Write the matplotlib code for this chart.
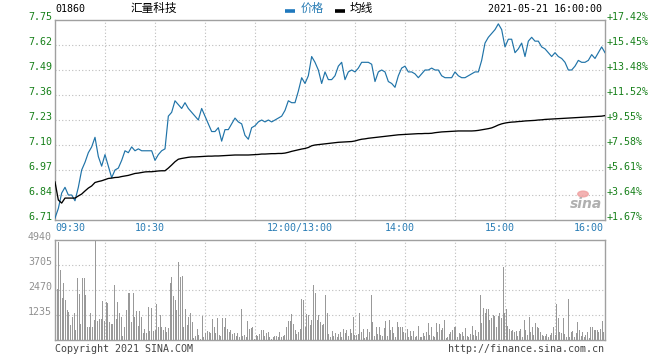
import numpy as np
import matplotlib
matplotlib.use("Agg")
import matplotlib.pyplot as plt
import matplotlib.transforms as mtransforms

# ---------------- data ----------------
code = "01860"
name = "汇量科技"
date_text = "2021-05-21 16:00:00"
prev_close = 6.60

price_ticks = [6.71, 6.84, 6.97, 7.10, 7.23, 7.36, 7.49, 7.62, 7.75]
pct_labels = ["+1.67%", "+3.64%", "+5.61%", "+7.58%", "+9.55%",
              "+11.52%", "+13.48%", "+15.45%", "+17.42%"]
vol_ticks = [1235, 2470, 3705, 4940]
time_ticks = [0, 60, 150, 210, 270, 330]          # minutes from open
time_labels = ["09:30", "10:30", "12:00/13:00", "14:00", "15:00", "16:00"]

# price every 2 trading minutes
price = [6.72, 6.77, 6.85, 6.88, 6.84, 6.84, 6.81, 6.88, 6.97, 7.01,
         7.06, 7.09, 7.14, 7.04, 6.99, 7.05, 6.99, 6.93, 6.97, 6.98,
         7.02, 7.07, 7.06, 7.09, 7.07, 7.08, 7.07, 7.07, 7.07, 7.07,
         7.02, 7.05, 7.07, 7.08, 7.25, 7.27, 7.33, 7.31, 7.29, 7.32,
         7.29, 7.27, 7.25, 7.23, 7.29, 7.25, 7.21, 7.17, 7.17, 7.19,
         7.12, 7.18, 7.18, 7.21, 7.24, 7.22, 7.21, 7.15, 7.13, 7.19,
         7.20, 7.22, 7.23, 7.22, 7.23, 7.22, 7.23, 7.24, 7.25, 7.28,
         7.33, 7.32, 7.32, 7.38, 7.45, 7.42, 7.46, 7.56, 7.53, 7.49,
         7.42, 7.48, 7.44, 7.44, 7.46, 7.51, 7.53, 7.44, 7.48, 7.49,
         7.48, 7.50, 7.53, 7.53, 7.53, 7.52, 7.43, 7.48, 7.49, 7.48,
         7.43, 7.42, 7.40, 7.46, 7.50, 7.51, 7.48, 7.48, 7.47, 7.45,
         7.47, 7.49, 7.49, 7.50, 7.49, 7.49, 7.46, 7.45, 7.45, 7.45,
         7.48, 7.46, 7.45, 7.45, 7.46, 7.47, 7.48, 7.48, 7.54, 7.63,
         7.66, 7.68, 7.70, 7.73, 7.70, 7.61, 7.65, 7.65, 7.58, 7.60,
         7.63, 7.56, 7.64, 7.66, 7.64, 7.64, 7.61, 7.60, 7.58, 7.56,
         7.58, 7.56, 7.55, 7.53, 7.49, 7.49, 7.51, 7.54, 7.53, 7.53,
         7.54, 7.57, 7.55, 7.58, 7.61, 7.58]

avg_price = [6.908, 6.814, 6.798, 6.824, 6.824, 6.824, 6.824, 6.835, 6.845, 6.861,
             6.876, 6.887, 6.905, 6.910, 6.914, 6.920, 6.926, 6.928, 6.931, 6.932,
             6.936, 6.939, 6.942, 6.947, 6.952, 6.954, 6.957, 6.960, 6.961, 6.961,
             6.963, 6.965, 6.966, 6.966, 6.980, 6.996, 7.013, 7.026, 7.030, 7.033,
             7.036, 7.038, 7.038, 7.039, 7.040, 7.041, 7.042, 7.042, 7.043, 7.043,
             7.044, 7.045, 7.046, 7.047, 7.048, 7.048, 7.048, 7.048, 7.048, 7.049,
             7.050, 7.051, 7.053, 7.053, 7.054, 7.055, 7.055, 7.056, 7.056, 7.058,
             7.062, 7.067, 7.071, 7.075, 7.079, 7.082, 7.087, 7.096, 7.100, 7.102,
             7.104, 7.106, 7.108, 7.110, 7.112, 7.114, 7.115, 7.116, 7.117, 7.118,
             7.121, 7.126, 7.130, 7.132, 7.135, 7.137, 7.139, 7.141, 7.143, 7.145,
             7.147, 7.149, 7.151, 7.153, 7.154, 7.155, 7.156, 7.157, 7.158, 7.159,
             7.159, 7.160, 7.160, 7.161, 7.164, 7.166, 7.168, 7.169, 7.170, 7.171,
             7.172, 7.173, 7.173, 7.173, 7.173, 7.173, 7.174, 7.176, 7.179, 7.182,
             7.185, 7.189, 7.196, 7.204, 7.210, 7.214, 7.217, 7.219, 7.220, 7.222,
             7.223, 7.225, 7.226, 7.227, 7.228, 7.230, 7.231, 7.233, 7.234, 7.235,
             7.236, 7.237, 7.238, 7.239, 7.240, 7.241, 7.242, 7.243, 7.244, 7.245,
             7.246, 7.247, 7.248, 7.249, 7.250, 7.253]

volume_am = [2500, 4840, 3460, 2060, 2800, 2000, 1480, 1400, 740, 1120,
             1320, 490, 3050, 2270, 790, 3050, 3050, 2220, 660, 625,
             1320, 660, 990, 4900, 955, 1020, 1020, 1940, 955, 1860,
             1810, 905, 790, 790, 2720, 1020, 1890, 1350, 1120, 200,
             660, 1480, 2340, 2340, 905, 2340, 1150, 1450, 690, 1450,
             1120, 330, 560, 330, 1650, 460, 1600, 445, 490, 1780,
             660, 1235, 625, 490, 660, 410, 575, 2830, 3130, 2190,
             1980, 1480, 3850, 3130, 3160, 625, 1550, 740, 1120, 1320,
             890, 80, 200, 530, 250, 70, 1200, 165, 360, 445,
             410, 360, 1020, 660, 360, 1070, 250, 200, 1070, 660,
             1070, 530, 400, 490, 300, 330, 200, 330, 165, 1515,
             200, 230, 165, 955, 530, 575, 625, 30, 250, 200,
             300, 490, 490, 200, 330, 410, 165, 30, 130, 200,
             200, 165, 400, 130, 200, 250, 625, 955, 955, 1285,
             790, 490, 300, 410, 530, 2030, 1980, 660, 1285, 1235,
             740, 990, 2720, 2300, 990, 1235, 905, 740, 790, 2220,
             1320, 300, 130]
volume_pm = [445, 200, 330, 130, 300, 410, 165, 530, 360, 490,
             200, 530, 330, 1120, 250, 250, 300, 1320, 410, 530,
             80, 130, 545, 410, 2220, 905, 200, 660, 300, 625,
             250, 200, 575, 955, 200, 990, 490, 660, 330, 165,
             890, 625, 625, 660, 410, 330, 530, 165, 460, 200,
             460, 165, 200, 690, 165, 165, 330, 200, 410, 825,
             250, 660, 200, 165, 855, 410, 790, 490, 575, 990,
             80, 130, 300, 410, 490, 625, 660, 165, 330, 300,
             410, 200, 575, 200, 165, 300, 690, 250, 490, 200,
             410, 2220, 825, 1565, 1320, 1515, 1530, 990, 1070, 1235,
             1185, 660, 1185, 1320, 1070, 3620, 1350, 1530, 690, 530,
             460, 490, 410, 460, 200, 460, 530, 130, 990, 490,
             250, 1120, 410, 625, 250, 855, 660, 575, 410, 250,
             200, 200, 300, 130, 250, 360, 625, 250, 1780, 1070,
             410, 330, 1070, 300, 130, 2010, 165, 410, 460, 165,
             330, 905, 490, 200, 410, 165, 250, 410, 80, 660,
             625, 490, 490, 490, 410, 530, 955, 410, 1020]

# ---------------- style ----------------
W, H = 660, 360
MONO = "DejaVu Sans Mono"
FS = 7.2
GREEN = "#17801a"
BLUE_TXT = "#2a7db5"
PRICE_C = "#1f73a8"
FRAME = "#a0a0a0"
GRID = "#bdbdbd"
VOLC = "#999999"

fig = plt.figure(figsize=(W / 100, H / 100), dpi=100)
fig.patch.set_facecolor("white")

ax = fig.add_axes([55 / W, 1 - 220 / H, 550 / W, 200 / H])
axv = fig.add_axes([55 / W, 1 - 340 / H, 550 / W, 100 / H])

n_min = 330
t_price = np.arange(len(price)) * 2
t_vol_am = np.linspace(1, 165, len(volume_am))
t_vol_pm = np.linspace(166, 330, len(volume_pm))

for a in (ax, axv):
    a.set_xlim(0, n_min)
    a.set_xticks([])
    a.set_yticks([])
    for s in a.spines.values():
        s.set_color(FRAME)
        s.set_linewidth(1.0)
    for t in range(30, n_min, 30):
        a.axvline(t, color=GRID, lw=0.8, ls=(0, (1, 2)), zorder=0)

ax.set_ylim(price_ticks[0], price_ticks[-1])
for v in price_ticks[1:-1]:
    ax.axhline(v, color=GRID, lw=0.8, ls=(0, (1, 2)), zorder=0)

axv.set_ylim(0, vol_ticks[-1])
for v in vol_ticks[:-1]:
    axv.axhline(v, color=GRID, lw=0.8, ls=(0, (1, 2)), zorder=0)

# lines
ax.plot(t_price, price, color=PRICE_C, lw=0.85, zorder=3)
ax.plot(t_price, avg_price, color="black", lw=0.95, zorder=4)

# volume bars
axv.vlines(t_vol_am, 0, volume_am, color=VOLC, lw=0.55, zorder=3, antialiased=False)
axv.vlines(t_vol_pm, 0, volume_pm, color=VOLC, lw=0.55, zorder=3, antialiased=False)

# price labels (left) and percent labels (right)
ytr = ax.get_yaxis_transform()
left_tr = mtransforms.offset_copy(ytr, fig=fig, x=-3, y=3, units="dots")
right_tr = mtransforms.offset_copy(ytr, fig=fig, x=2, y=3, units="dots")
for v, p in zip(price_ticks, pct_labels):
    ax.text(0, v, f"{v:.2f}", transform=left_tr, ha="right", va="center",
            family=MONO, fontsize=FS, color=GREEN)
    ax.text(1, v, p, transform=right_tr, ha="left", va="center",
            family=MONO, fontsize=FS, color=GREEN)

# volume labels
vtr = mtransforms.offset_copy(axv.get_yaxis_transform(), fig=fig, x=-3, y=3, units="dots")
for v in vol_ticks:
    axv.text(0, v, str(v), transform=vtr, ha="right", va="center",
             family=MONO, fontsize=FS, color="#909090")

# time labels
xtr = ax.get_xaxis_transform()
for i, (t, lab) in enumerate(zip(time_ticks, time_labels)):
    if i == 0:
        ha, dx = "left", 0
    elif i == len(time_ticks) - 1:
        ha, dx = "right", -1
    else:
        ha, dx = "center", -5
    tr = mtransforms.offset_copy(xtr, fig=fig, x=dx, y=-8, units="dots")
    ax.text(t, 0, lab, transform=tr, ha=ha, va="center",
            family=MONO, fontsize=FS, color=BLUE_TXT)

# header
def fx(px):
    return px / W

def fy(py):
    return 1 - py / H

fig.text(fx(55), fy(8.5), code, family=MONO, fontsize=FS, color="black",
         ha="left", va="center")
fig.text(fx(131), fy(8.5), name, family=["Noto Sans CJK SC", "DejaVu Sans"],
         fontsize=8.4, color="black", ha="left", va="center")
fig.add_artist(plt.Line2D([fx(285), fx(295)], [fy(11), fy(11)],
                          color="#1f78bd", lw=2.6, solid_capstyle="butt"))
fig.text(fx(301), fy(8.5), "价格", family=["Noto Sans CJK SC", "DejaVu Sans"],
         fontsize=8.4, color=BLUE_TXT, ha="left", va="center")
fig.add_artist(plt.Line2D([fx(335), fx(345)], [fy(11), fy(11)],
                          color="black", lw=2.6, solid_capstyle="butt"))
fig.text(fx(350), fy(8.5), "均线", family=["Noto Sans CJK SC", "DejaVu Sans"],
         fontsize=8.4, color="black", ha="left", va="center")
fig.text(fx(602), fy(8.5), date_text, family=MONO, fontsize=FS, color="black",
         ha="right", va="center")

# footer
fig.text(fx(55), fy(349.5), "Copyright 2021 SINA.COM", family=MONO, fontsize=FS,
         color="#444444", ha="left", va="center")
fig.text(fx(604), fy(349.5), "http://finance.sina.com.cn", family=MONO,
         fontsize=FS, color="#444444", ha="right", va="center")

# watermark
fig.text(fx(586), fy(204), "sina", family="DejaVu Sans", fontsize=10,
         fontweight="bold", style="italic", color="#b0b0b0",
         ha="center", va="center", zorder=5)
fig.add_artist(matplotlib.patches.Circle((fx(583), fy(194)), 0.008,
                                         transform=fig.transFigure,
                                         color="#f0a0a0", alpha=0.8))

fig.savefig("out.png", dpi=100, facecolor="white")
